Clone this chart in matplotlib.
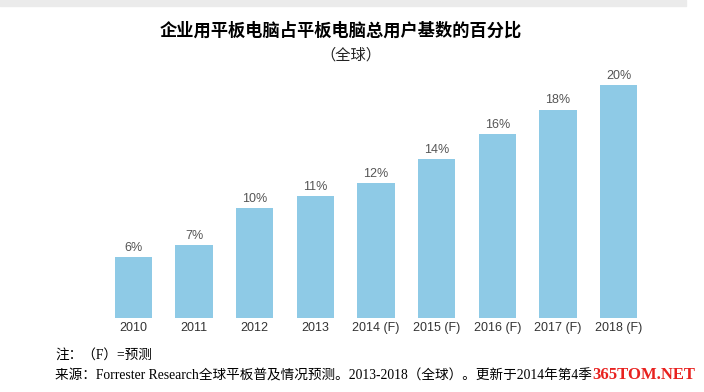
import matplotlib.pyplot as plt
from matplotlib.patches import Rectangle

years = ['2010', '2011', '2012', '2013', '2014 (F)', '2015 (F)',
         '2016 (F)', '2017 (F)', '2018 (F)']
share = [6, 7, 10, 11, 12, 14, 16, 18, 20]
labels = ['6%', '7%', '10%', '11%', '12%', '14%', '16%', '18%', '20%']

title = '企业用平板电脑占平板电脑总用户基数的百分比'
subtitle = '（全球）'
note1 = '注：（F）=预测'
note2 = '来源：Forrester Research全球平板普及情况预测。2013-2018（全球）。更新于2014年第4季'

W, H = 704, 392
fig = plt.figure(figsize=(W / 100, H / 100), dpi=100)
fig.patch.set_facecolor('white')

# light grey strip along the top of the screenshot
fig.patches.append(Rectangle((0, 1 - 6 / H), 686 / W, 6 / H,
                             transform=fig.transFigure, color='#ebebeb', zorder=0))

# axes placed in pixels: bars from x=103 to 649, baseline at y=318
ax = fig.add_axes([103 / W, (H - 318) / H, 546 / W, 258 / H])
x = list(range(len(years)))
ax.bar(x, share, width=0.61, color='#8ecae6')
ax.set_xlim(-0.5, len(years) - 0.5)
ax.set_ylim(1.05, 1.05 + 258 / 12.3)
for xi, v, lab in zip(x, share, labels):
    ax.text(xi, v + 0.25, lab, ha='center', va='bottom', fontsize=9,
            color='#555555', family=['Liberation Sans', 'DejaVu Sans'])
ax.set_xticks(x)
ax.set_xticklabels(years, fontsize=9, color='#333333',
                   family=['Liberation Sans', 'DejaVu Sans'])
ax.tick_params(axis='x', length=0, pad=3)
ax.set_yticks([])
for s in ax.spines.values():
    s.set_visible(False)

cjk = ['Liberation Serif', 'Noto Sans CJK SC']
fig.text(341 / W, 1 - 31 / H, title, ha='center', va='center', fontsize=12.4,
         fontweight='bold', family=['Noto Sans CJK SC'])
fig.text(351 / W, 1 - 55 / H, subtitle, ha='center', va='center', fontsize=11,
         family=['Noto Sans CJK SC'], color='#222222')
fig.text(55 / W, 1 - 355 / H, note1, ha='left', va='center', fontsize=9.8,
         family=cjk)
fig.text(55 / W, 1 - 376 / H, note2, ha='left', va='center', fontsize=9.8,
         family=cjk)
fig.text(592 / W, 1 - 375 / H, '365TOM.NET', ha='left', va='center',
         fontsize=12, fontweight='bold', color='#e8211f',
         family=['Liberation Serif'])

fig.savefig('out.png', dpi=100)
